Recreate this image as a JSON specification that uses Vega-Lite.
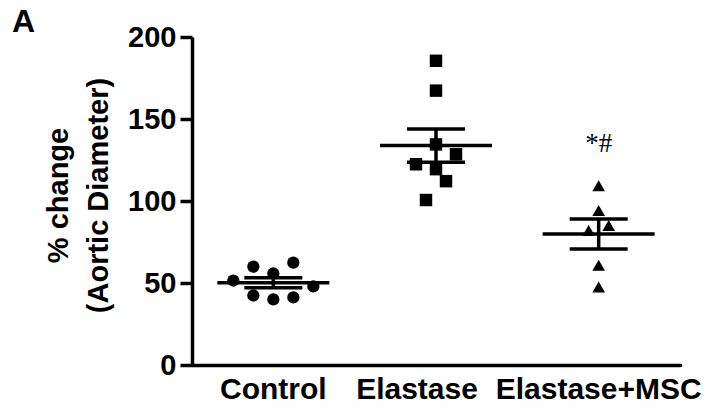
{
  "$schema": "https://vega.github.io/schema/vega-lite/v6.json",
  "width": 488,
  "height": 328,
  "autosize": {"type": "none"},
  "padding": {"left": 192, "top": 37, "right": 29, "bottom": 48},
  "background": "white",
  "title": {"text": "A", "anchor": "start", "frame": "group", "fontSize": 32, "fontWeight": "bold", "font": "Liberation Sans", "color": "black", "dx": -180, "dy": 20, "offset": 4},
  "config": {"view": {"stroke": null}},
  "data": {"values": [
    {"group": "Control", "value": 51.5, "jit": -4},
    {"group": "Control", "value": 60.0, "jit": -2},
    {"group": "Control", "value": 42.4, "jit": -2},
    {"group": "Control", "value": 55.8, "jit": 0},
    {"group": "Control", "value": 40.0, "jit": 0},
    {"group": "Control", "value": 62.4, "jit": 2},
    {"group": "Control", "value": 41.2, "jit": 2},
    {"group": "Control", "value": 47.9, "jit": 4},
    {"group": "Elastase", "value": 185.5, "jit": 0},
    {"group": "Elastase", "value": 167.3, "jit": 0},
    {"group": "Elastase", "value": 134.5, "jit": 0},
    {"group": "Elastase", "value": 128.5, "jit": 2},
    {"group": "Elastase", "value": 122.4, "jit": -2},
    {"group": "Elastase", "value": 119.4, "jit": 0},
    {"group": "Elastase", "value": 112.1, "jit": 1},
    {"group": "Elastase", "value": 100.6, "jit": -1},
    {"group": "Elastase+MSC", "value": 109.3, "jit": 0},
    {"group": "Elastase+MSC", "value": 94.2, "jit": 0},
    {"group": "Elastase+MSC", "value": 85.1, "jit": 1},
    {"group": "Elastase+MSC", "value": 82.0, "jit": -1},
    {"group": "Elastase+MSC", "value": 60.8, "jit": 0},
    {"group": "Elastase+MSC", "value": 47.5, "jit": 0}
  ]},
  "encoding": {
    "x": {
      "field": "group", "type": "nominal",
      "sort": ["Control", "Elastase", "Elastase+MSC"],
      "scale": {"paddingInner": 0, "paddingOuter": 0},
      "axis": {
        "title": null, "labelAngle": 0, "ticks": false,
        "labelFont": "Liberation Sans", "labelFontWeight": "bold", "labelFontSize": 30, "labelColor": "black",
        "labelPadding": 9, "labelLimit": 0, "labelOverlap": false,
        "labelOffset": {"condition": {"test": "datum.value === 'Elastase'", "value": -19}, "value": 0},
        "domainColor": "black", "domainWidth": 3.5, "domainCap": "round"
      }
    },
    "y": {
      "field": "value", "type": "quantitative",
      "scale": {"domain": [0, 200], "nice": false},
      "axis": {
        "values": [0, 50, 100, 150, 200], "grid": false,
        "title": ["% change", "(Aortic Diameter)"],
        "titleFont": "Liberation Sans", "titleFontWeight": "bold", "titleFontSize": 29, "titleColor": "black",
        "titleAngle": -90, "titleX": -134, "titleY": 158, "titleBaseline": "middle", "titleAlign": "center", "titleLineHeight": 40,
        "labelFont": "Liberation Sans", "labelFontWeight": "bold", "labelFontSize": 29, "labelColor": "black",
        "labelPadding": 4,
        "tickSize": 12, "tickWidth": 3.5, "tickColor": "black",
        "domainColor": "black", "domainWidth": 3.5
      }
    }
  },
  "layer": [
    {
      "mark": {"type": "point", "filled": true, "opacity": 1, "color": "black"},
      "encoding": {
        "xOffset": {"field": "jit", "type": "quantitative", "scale": {"domain": [-4, 4], "range": [41.33, 121.33]}},
        "shape": {"field": "group", "type": "nominal", "scale": {"domain": ["Control", "Elastase", "Elastase+MSC"], "range": ["circle", "square", "triangle-up"]}, "legend": null},
        "size": {"field": "group", "type": "nominal", "scale": {"domain": ["Control", "Elastase", "Elastase+MSC"], "range": [150, 160, 175]}, "legend": null}
      }
    },
    {
      "mark": {"type": "errorbar", "extent": "stderr", "color": "black", "thickness": 3.5, "rule": {"color": "black", "opacity": 1}, "ticks": {"size": 58, "thickness": 3.5, "color": "black", "opacity": 1}}
    },
    {
      "transform": [{"aggregate": [{"op": "mean", "field": "value", "as": "value"}], "groupby": ["group"]}],
      "mark": {"type": "tick", "color": "black", "size": 112, "thickness": 3.5, "opacity": 1}
    },
    {
      "data": {"values": [{"group": "Elastase+MSC", "value": 135, "label": "*#"}]},
      "mark": {"type": "text", "font": "Liberation Serif", "fontSize": 27, "color": "black", "baseline": "middle"},
      "encoding": {
        "text": {"field": "label"}
      }
    }
  ]
}
